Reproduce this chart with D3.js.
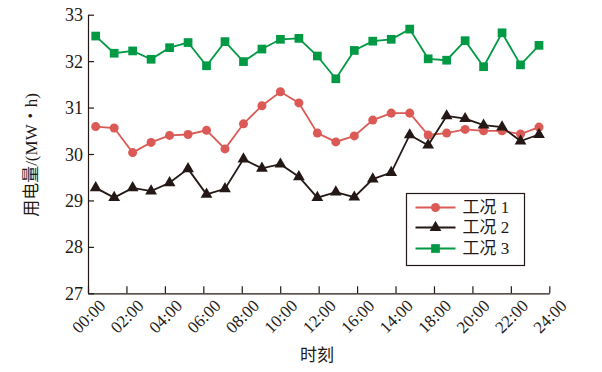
<!DOCTYPE html>
<html>
<head>
<meta charset="utf-8">
<title>用电量</title>
<script src="https://d3js.org/d3.v7.min.js"></script>
<style>
  body { margin: 0; background: #fff; }
  svg text { font-family: "Liberation Serif", "Times New Roman", "DejaVu Serif", "Noto Sans CJK SC", serif; fill: #231815; }
</style>
</head>
<body>
<script>
'use strict';
// tick labels on the x axis (as printed in the source)
const xTickLabels = ['00:00', '02:00', '04:00', '06:00', '08:00', '10:00', '12:00',
                     '16:00', '14:00', '18:00', '20:00', '22:00', '24:00'];
const yTicks = [27, 28, 29, 30, 31, 32, 33];

// 25 samples per series
const case1 = [30.59, 30.56, 30.03, 30.25, 30.40, 30.42, 30.51, 30.11, 30.65, 31.04, 31.34, 31.10, 30.45,
               30.26, 30.39, 30.73, 30.88, 30.88, 30.41, 30.45, 30.53, 30.50, 30.50, 30.43, 30.58];
const case2 = [29.27, 29.06, 29.27, 29.20, 29.38, 29.68, 29.13, 29.25, 29.89, 29.69, 29.78, 29.51, 29.06,
               29.18, 29.07, 29.46, 29.60, 30.41, 30.19, 30.82, 30.76, 30.62, 30.58, 30.28, 30.42];
const case3 = [32.54, 32.17, 32.22, 32.04, 32.29, 32.40, 31.90, 32.42, 31.99, 32.26, 32.47, 32.49, 32.11,
               31.62, 32.23, 32.43, 32.47, 32.69, 32.05, 32.02, 32.44, 31.88, 32.61, 31.92, 32.34];

const seriesNames = ['工况 1', '工况 2', '工况 3'];

const width = 602, height = 372;
const svg = d3.select('body').append('svg')
    .attr('width', width)
    .attr('height', height);

const axisLeftX = 88, axisRightX = 549.3, axisTop = 14.7, axisBottom = 293.3;

const y = d3.scaleLinear().domain([27, 33]).range([axisBottom, axisTop]);
const xTick = d3.scalePoint().domain(xTickLabels).range([axisLeftX, axisRightX]);
const x = d3.scaleLinear().domain([0, 24]).range([95.7, 539]);

// y axis
const gy = svg.append('g')
    .attr('transform', `translate(${axisLeftX},0)`)
    .call(d3.axisLeft(y).tickValues(yTicks).tickFormat(d3.format('d'))
        .tickSize(-6).tickSizeOuter(0).tickPadding(5));
gy.attr('font-family', null);
gy.select('.domain').attr('stroke', '#231815').attr('stroke-width', 1.2);
gy.selectAll('.tick line').attr('stroke', '#231815').attr('stroke-width', 1.2);
gy.selectAll('.tick text').attr('font-size', 18).attr('dy', '0.34em');

// x axis
const gx = svg.append('g')
    .attr('transform', `translate(0,${axisBottom})`)
    .call(d3.axisBottom(xTick).tickSize(-7).tickSizeOuter(0));
gx.attr('font-family', null);
gx.select('.domain').attr('stroke', '#231815').attr('stroke-width', 1.2);
gx.selectAll('.tick line').attr('stroke', '#231815').attr('stroke-width', 1.2);
gx.selectAll('.tick text')
    .attr('font-size', 17)
    .attr('y', 0).attr('dy', '0.35em')
    .attr('text-anchor', 'middle')
    .attr('transform', 'translate(0,23) rotate(-45)');

// axis titles
svg.append('text')
    .attr('transform', `translate(37,155) rotate(-90)`)
    .attr('text-anchor', 'middle')
    .attr('font-size', 17)
    .text('用电量/(MW・h)');

svg.append('text')
    .attr('x', 317).attr('y', 361)
    .attr('text-anchor', 'middle')
    .attr('font-size', 17)
    .text('时刻');

const line = d3.line()
    .x((d, i) => x(i))
    .y(d => y(d));

const series = [
  {name: seriesNames[0], values: case1, color: '#dc5a55', shape: d3.symbolCircle, size: 64},
  {name: seriesNames[1], values: case2, color: '#231815', shape: d3.symbolTriangle, size: 60},
  {name: seriesNames[2], values: case3, color: '#009a44', shape: d3.symbolSquare, size: 76}
];

series.forEach(s => {
  svg.append('path')
      .datum(s.values)
      .attr('fill', 'none')
      .attr('stroke', s.color)
      .attr('stroke-width', 1.8)
      .attr('d', line);
  svg.selectAll(null)
      .data(s.values)
      .enter().append('path')
      .attr('transform', (d, i) => `translate(${x(i)},${y(d)})`)
      .attr('d', d3.symbol().type(s.shape).size(s.size))
      .attr('fill', s.color);
});

// legend
const legend = svg.append('g').attr('transform', 'translate(406.5,193.5)');
legend.append('rect')
    .attr('width', 118).attr('height', 72)
    .attr('fill', '#fff')
    .attr('stroke', '#231815')
    .attr('stroke-width', 1.2);

const rowY = [14, 34, 55];
series.forEach((s, i) => {
  const row = legend.append('g').attr('transform', `translate(0,${rowY[i]})`);
  row.append('line')
      .attr('x1', 9).attr('x2', 49)
      .attr('stroke', s.color).attr('stroke-width', 1.8);
  row.append('path')
      .attr('transform', 'translate(29,0)')
      .attr('d', d3.symbol().type(s.shape).size(s.size))
      .attr('fill', s.color);
  row.append('text')
      .attr('x', 56).attr('dy', '0.35em')
      .attr('font-size', 17)
      .text(s.name);
});
</script>
</body>
</html>
